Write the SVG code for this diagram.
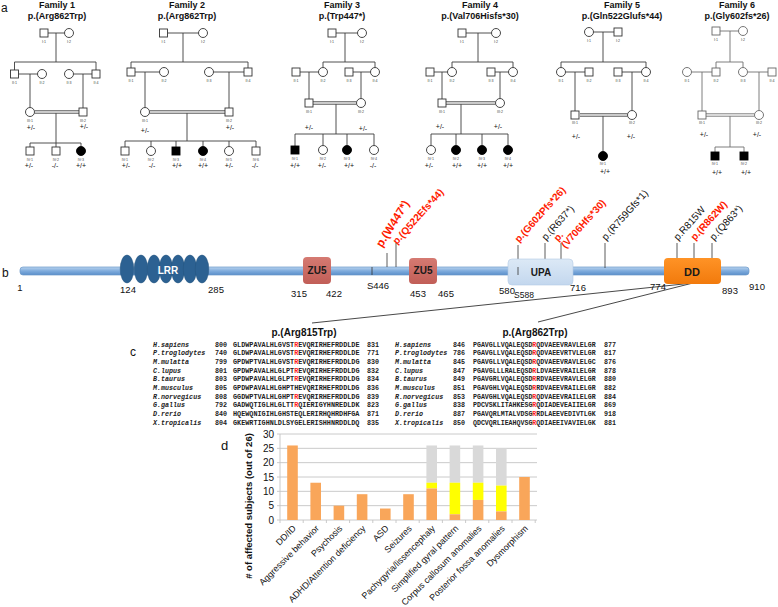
<svg xmlns="http://www.w3.org/2000/svg" width="778" height="607" viewBox="0 0 778 607">
<defs>
<linearGradient id="barG" x1="0" y1="0" x2="0" y2="1"><stop offset="0" stop-color="#b8d3ef"/><stop offset="0.5" stop-color="#7eabdc"/><stop offset="1" stop-color="#5b8fca"/></linearGradient>
<linearGradient id="zuG" x1="0" y1="0" x2="0" y2="1"><stop offset="0" stop-color="#d57a72"/><stop offset="1" stop-color="#c15e57"/></linearGradient>
<linearGradient id="ddG" x1="0" y1="0" x2="0" y2="1"><stop offset="0" stop-color="#ff9326"/><stop offset="1" stop-color="#f27a0c"/></linearGradient>
<linearGradient id="upG" x1="0" y1="0" x2="0" y2="1"><stop offset="0" stop-color="#dce9f6"/><stop offset="1" stop-color="#c3d7ee"/></linearGradient>
</defs>
<style>
.ln{stroke:#3c3c3c;stroke-width:0.9;fill:none}
.lg{stroke:#707070;stroke-width:0.9;fill:none}
.s{fill:#fff;stroke:#333;stroke-width:0.9}
.a{fill:#000;stroke:#000;stroke-width:0.9}
.tt{font-family:"Liberation Sans",Arial,sans-serif;font-weight:bold;font-size:9px;text-anchor:middle;fill:#111}
.id{font-family:"Liberation Sans",Arial,sans-serif;font-size:3.6px;text-anchor:middle;fill:#444}
.gt{font-family:"Liberation Sans",Arial,sans-serif;font-size:7px;text-anchor:middle;fill:#111}
.pl{font-family:"Liberation Sans",Arial,sans-serif;font-size:12px;fill:#111}
.num{font-family:"Liberation Sans",Arial,sans-serif;font-size:9.5px;text-anchor:middle;fill:#111}
.dom{font-family:"Liberation Sans",Arial,sans-serif;font-size:10px;font-weight:bold;text-anchor:middle;fill:#1a1a1a}
.mr{font-family:"Liberation Sans",Arial,sans-serif;font-size:10px;font-weight:bold;fill:#ff1a00}
.mk{font-family:"Liberation Sans",Arial,sans-serif;font-size:10px;fill:#111}
.tk{stroke:#333;stroke-width:0.8}
.ht{font-family:"Liberation Sans",Arial,sans-serif;font-size:10px;font-weight:bold;text-anchor:middle;fill:#111}
.sp{font-family:"Liberation Mono",monospace;font-size:6.7px;font-weight:bold;font-style:italic;fill:#222}
.nm{font-family:"Liberation Mono",monospace;font-size:6.7px;font-weight:bold;fill:#222}
.sqL{font-family:"Liberation Mono",monospace;font-size:6.8px;font-weight:bold;fill:#222}
.sqR{font-family:"Liberation Mono",monospace;font-size:6.6px;font-weight:bold;fill:#222}
.rd{fill:#ff2020}
.grid{stroke:#c4c4c4;stroke-width:0.9}
.o{fill:#f9a65a}.y{fill:#ffff00}.g{fill:#d9d9d9}
.xl{font-family:"Liberation Sans",Arial,sans-serif;font-size:8.9px;text-anchor:end;fill:#111}
.yl{font-family:"Liberation Sans",Arial,sans-serif;font-size:10px;text-anchor:end;fill:#111}
</style>
<rect width="778" height="607" fill="#fff"/>

<!-- Panel a -->
<text class="pl" x="1" y="12">a</text>

<g id="family1">
<text class="tt" x="57" y="8">Family 1</text>
<text class="tt" x="57" y="19">p.(Arg862Trp)</text>
<g id="f1-connectors">
<path class="ln" d="M48,33 H64.5 M56,33 V62 M14.5,62 H96 M14.5,62 V70 M96,62 V70 M18.5,74 H37.5 M30,74 V107.5 M73.5,74 H92 M83,74 V108 M34.5,110.8 H79 M34.5,113.2 H79 M56,113.2 V143 M30,143 H81 M30,143 V147 M56,143 V147 M81,143 V146.5"/>
</g>
<g id="f1-I1"><rect class="s" x="40" y="29" width="8" height="8"/><text class="id" x="44" y="42.5">I:1</text></g>
<g id="f1-I2"><circle class="s" cx="69" cy="33" r="4.5"/><text class="id" x="69" y="42.5">I:2</text></g>
<g id="f1-II1"><rect class="s" x="10.5" y="70" width="8" height="8"/><text class="id" x="14.5" y="83.5">II:1</text></g>
<g id="f1-II2"><circle class="s" cx="42" cy="74" r="4.5"/><text class="id" x="42" y="83.5">II:2</text></g>
<g id="f1-II3"><circle class="s" cx="69" cy="74" r="4.5"/><text class="id" x="69" y="83.5">II:3</text></g>
<g id="f1-II4"><rect class="s" x="92" y="70" width="8" height="8"/><text class="id" x="96" y="83.5">II:4</text></g>
<g id="f1-III1"><circle class="s" cx="30" cy="112" r="4.5"/><text class="id" x="30" y="121.5">III:1</text><text class="gt" x="31" y="130">+/-</text></g>
<g id="f1-III2"><rect class="s" x="79" y="108" width="8" height="8"/><text class="id" x="83" y="121.5">III:2</text><text class="gt" x="84" y="129">+/-</text></g>
<g id="f1-IV1"><rect class="s" x="26" y="147" width="8" height="8"/><text class="id" x="30" y="160.5">IV:1</text><text class="gt" x="29" y="167.5">+/-</text></g>
<g id="f1-IV2"><rect class="s" x="52" y="147" width="8" height="8"/><text class="id" x="56" y="160.5">IV:2</text><text class="gt" x="55" y="167.5">-/-</text></g>
<g id="f1-IV3"><circle class="a" cx="81" cy="151" r="4.5"/><text class="id" x="81" y="160.5">IV:3</text><text class="gt" x="81" y="167.5">+/+</text></g>
</g>

<g id="family2">
<text class="tt" x="187" y="8">Family 2</text>
<text class="tt" x="187" y="19">p.(Arg862Trp)</text>
<g id="f2-connectors">
<path class="ln" d="M167.5,33 H198.5 M183,33 V62 M131,62 H248 M131,62 V68 M248,62 V68 M135,72 H159.5 M145,72 V107.5 M213.5,72 H244 M229,72 V108 M149.5,110.8 H225 M149.5,113.2 H225 M187,113.2 V141 M125,141 H256 M125,141 V147 M151,141 V146.5 M176,141 V147 M203,141 V146.5 M229,141 V146.5 M256,141 V147"/>
</g>
<g id="f2-I1"><rect class="s" x="159.5" y="29" width="8" height="8"/><text class="id" x="163.5" y="42.5">I:1</text></g>
<g id="f2-I2"><circle class="s" cx="203" cy="33" r="4.5"/><text class="id" x="203" y="42.5">I:2</text></g>
<g id="f2-II1"><rect class="s" x="127" y="68" width="8" height="8"/><text class="id" x="131" y="81.5">II:1</text></g>
<g id="f2-II2"><circle class="s" cx="164" cy="72" r="4.5"/><text class="id" x="164" y="81.5">II:2</text></g>
<g id="f2-II3"><circle class="s" cx="209" cy="72" r="4.5"/><text class="id" x="209" y="81.5">II:3</text></g>
<g id="f2-II4"><rect class="s" x="244" y="68" width="8" height="8"/><text class="id" x="248" y="81.5">II:4</text></g>
<g id="f2-III1"><circle class="s" cx="145" cy="112" r="4.5"/><text class="id" x="145" y="121.5">III:1</text><text class="gt" x="145" y="132.5">+/-</text></g>
<g id="f2-III2"><rect class="s" x="225" y="108" width="8" height="8"/><text class="id" x="229" y="121.5">III:2</text><text class="gt" x="230" y="130">+/-</text></g>
<g id="f2-IV1"><rect class="s" x="121" y="147" width="8" height="8"/><text class="id" x="125" y="160.5">IV:1</text><text class="gt" x="126" y="167.5">+/-</text></g>
<g id="f2-IV2"><circle class="s" cx="151" cy="151" r="4.5"/><text class="id" x="151" y="160.5">IV:2</text><text class="gt" x="152" y="167.5">-/-</text></g>
<g id="f2-IV3"><rect class="a" x="172" y="147" width="8" height="8"/><text class="id" x="176" y="160.5">IV:3</text><text class="gt" x="177" y="167.5">+/+</text></g>
<g id="f2-IV4"><circle class="a" cx="203" cy="151" r="4.5"/><text class="id" x="203" y="160.5">IV:4</text><text class="gt" x="203" y="167.5">+/+</text></g>
<g id="f2-IV5"><circle class="s" cx="229" cy="151" r="4.5"/><text class="id" x="229" y="160.5">IV:5</text><text class="gt" x="229" y="167.5">+/-</text></g>
<g id="f2-IV6"><rect class="s" x="252" y="147" width="8" height="8"/><text class="id" x="256" y="160.5">IV:6</text><text class="gt" x="255" y="167.5">-/-</text></g>
</g>

<g id="family3">
<text class="tt" x="342" y="8">Family 3</text>
<text class="tt" x="342" y="19">p.(Trp447*)</text>
<g id="f3-connectors">
<path class="ln" d="M336,33 H357.5 M345,33 V62 M323,62 H375 M323,62 V67.5 M375,62 V67.5 M300,72 H318.5 M309,72 V99 M353,72 H370.5 M361,72 V98.5 M313,101.8 H356.5 M313,104.2 H356.5 M336,104.2 V134 M295,134 H374 M295,134 V146 M323,134 V145.5 M347,134 V145.5 M374,134 V145.5"/>
</g>
<g id="f3-I1"><rect class="s" x="328" y="29" width="8" height="8"/><text class="id" x="332" y="42.5">I:1</text></g>
<g id="f3-I2"><circle class="s" cx="362" cy="33" r="4.5"/><text class="id" x="362" y="42.5">I:2</text></g>
<g id="f3-II1"><rect class="s" x="292" y="68" width="8" height="8"/><text class="id" x="296" y="81.5">II:1</text></g>
<g id="f3-II2"><circle class="s" cx="323" cy="72" r="4.5"/><text class="id" x="323" y="81.5">II:2</text></g>
<g id="f3-II3"><rect class="s" x="345" y="68" width="8" height="8"/><text class="id" x="349" y="81.5">II:3</text></g>
<g id="f3-II4"><circle class="s" cx="375" cy="72" r="4.5"/><text class="id" x="375" y="81.5">II:4</text></g>
<g id="f3-III1"><rect class="s" x="305" y="99" width="8" height="8"/><text class="id" x="309" y="112.5">III:1</text><text class="gt" x="309" y="130">+/-</text></g>
<g id="f3-III2"><circle class="s" cx="361" cy="103" r="4.5"/><text class="id" x="361" y="112.5">III:2</text><text class="gt" x="363" y="131">+/-</text></g>
<g id="f3-IV1"><rect class="a" x="291" y="146" width="8" height="8"/><text class="id" x="295" y="160">IV:1</text><text class="gt" x="295" y="167.5">+/+</text></g>
<g id="f3-IV2"><circle class="s" cx="323" cy="150" r="4.5"/><text class="id" x="323" y="160">IV:2</text><text class="gt" x="322" y="167.5">+/-</text></g>
<g id="f3-IV3"><circle class="a" cx="347" cy="150" r="4.5"/><text class="id" x="347" y="160">IV:3</text><text class="gt" x="349" y="167.5">+/+</text></g>
<g id="f3-IV4"><circle class="s" cx="374" cy="150" r="4.5"/><text class="id" x="374" y="160">IV:4</text><text class="gt" x="373" y="167.5">-/-</text></g>
</g>

<g id="family4">
<text class="tt" x="480" y="8">Family 4</text>
<text class="tt" x="480" y="19">p.(Val706Hisfs*30)</text>
<g id="f4-connectors">
<path class="ln" d="M466,33 H491.5 M478,33 V62 M452,62 H513 M452,62 V67.5 M513,62 V67.5 M434,72 H447.5 M442,72 V99 M495,72 H508.5 M500,72 V98.5 M446,101.8 H495.5 M446,104.2 H495.5 M461,104.2 V134 M431,134 H508 M431,134 V145.5 M456,134 V145.5 M482,134 V145.5 M508,134 V145.5"/>
</g>
<g id="f4-I1"><rect class="s" x="458" y="29" width="8" height="8"/><text class="id" x="462" y="42.5">I:1</text></g>
<g id="f4-I2"><circle class="s" cx="496" cy="33" r="4.5"/><text class="id" x="496" y="42.5">I:2</text></g>
<g id="f4-II1"><rect class="s" x="426" y="68" width="8" height="8"/><text class="id" x="430" y="81.5">II:1</text></g>
<g id="f4-II2"><circle class="s" cx="452" cy="72" r="4.5"/><text class="id" x="452" y="81.5">II:2</text></g>
<g id="f4-II3"><rect class="s" x="487" y="68" width="8" height="8"/><text class="id" x="491" y="81.5">II:3</text></g>
<g id="f4-II4"><circle class="s" cx="513" cy="72" r="4.5"/><text class="id" x="513" y="81.5">II:4</text></g>
<g id="f4-III1"><rect class="s" x="438" y="99" width="8" height="8"/><text class="id" x="442" y="112.5">III:1</text><text class="gt" x="440" y="129">+/-</text></g>
<g id="f4-III2"><circle class="s" cx="500" cy="103" r="4.5"/><text class="id" x="500" y="112.5">III:2</text><text class="gt" x="498" y="129">+/-</text></g>
<g id="f4-IV1"><circle class="s" cx="431" cy="150" r="4.5"/><text class="id" x="431" y="160">IV:1</text><text class="gt" x="429" y="167.5">+/-</text></g>
<g id="f4-IV2"><circle class="a" cx="456" cy="150" r="4.5"/><text class="id" x="456" y="160">IV:2</text><text class="gt" x="457" y="167.5">+/+</text></g>
<g id="f4-IV3"><circle class="a" cx="482" cy="150" r="4.5"/><text class="id" x="482" y="160">IV:3</text><text class="gt" x="482" y="167.5">+/+</text></g>
<g id="f4-IV4"><circle class="a" cx="508" cy="150" r="4.5"/><text class="id" x="508" y="160">IV:4</text><text class="gt" x="508" y="167.5">+/+</text></g>
</g>

<g id="family5">
<text class="tt" x="622" y="8">Family 5</text>
<text class="tt" x="622" y="19">p.(Gln522Glufs*44)</text>
<g id="f5-connectors">
<path class="ln" d="M593.5,32 H614 M603,32 V62 M561,62 H646 M561,62 V67.5 M646,62 V67.5 M565.5,72 H585 M575,72 V111 M622,72 H641.5 M632,72 V110.5 M580,113.8 H627.5 M580,116.2 H627.5 M603,116.2 V151.5"/>
</g>
<g id="f5-I1"><circle class="s" cx="589" cy="32" r="4.5"/><text class="id" x="589" y="41.5">I:1</text></g>
<g id="f5-I2"><rect class="s" x="614" y="28" width="8" height="8"/><text class="id" x="618" y="41.5">I:2</text></g>
<g id="f5-II1"><circle class="s" cx="561" cy="72" r="4.5"/><text class="id" x="561" y="81.5">II:1</text></g>
<g id="f5-II2"><rect class="s" x="585" y="68" width="8" height="8"/><text class="id" x="589" y="81.5">II:2</text></g>
<g id="f5-II3"><rect class="s" x="614" y="68" width="8" height="8"/><text class="id" x="618" y="81.5">II:3</text></g>
<g id="f5-II4"><circle class="s" cx="646" cy="72" r="4.5"/><text class="id" x="646" y="81.5">II:4</text></g>
<g id="f5-III1"><rect class="s" x="571" y="111" width="8" height="8"/><text class="id" x="575" y="124">III:1</text><text class="gt" x="576" y="138.5">+/-</text></g>
<g id="f5-III2"><circle class="s" cx="632" cy="115" r="4.5"/><text class="id" x="632" y="124">III:2</text><text class="gt" x="631" y="138.5">+/-</text></g>
<g id="f5-IV1"><circle class="a" cx="603" cy="156" r="4.5"/><text class="id" x="603" y="165">IV:1</text><text class="gt" x="605" y="174">+/+</text></g>
</g>

<g id="family6">
<text class="tt" x="737" y="8">Family 6</text>
<text class="tt" x="737" y="19">p.(Gly602fs*26)</text>
<g id="f6-connectors">
<path class="lg" d="M720,31 H738.5 M730,31 V62 M716,62 H743 M716,62 V68 M743,62 V67.5 M691.5,72 H712 M702,72 V111 M747.5,72 H768 M759,72 V110.5 M706,113.8 H754.5 M706,116.2 H754.5 M730,116.2 V147 M715,147 H744 M715,147 V152 M744,147 V152"/>
</g>
<g id="f6-I1"><rect class="s" x="712" y="27" width="8" height="8" style="stroke:#666"/><text class="id" x="716" y="40.5">I:1</text></g>
<g id="f6-I2"><circle class="s" cx="743" cy="31" r="4.5" style="stroke:#666"/><text class="id" x="743" y="40.5">I:2</text></g>
<g id="f6-II1"><circle class="s" cx="687" cy="72" r="4.5" style="stroke:#666"/><text class="id" x="687" y="81.5">II:1</text></g>
<g id="f6-II2"><rect class="s" x="712" y="68" width="8" height="8" style="stroke:#666"/><text class="id" x="716" y="81.5">II:2</text></g>
<g id="f6-II3"><circle class="s" cx="743" cy="72" r="4.5" style="stroke:#666"/><text class="id" x="743" y="81.5">II:3</text></g>
<g id="f6-II4"><rect class="s" x="768" y="68" width="8" height="8" style="stroke:#666"/><text class="id" x="772" y="81.5">II:4</text></g>
<g id="f6-III1"><rect class="s" x="698" y="111" width="8" height="8" style="stroke:#666"/><text class="id" x="702" y="124">III:1</text><text class="gt" x="704" y="136.5">+/-</text></g>
<g id="f6-III2"><circle class="s" cx="759" cy="115" r="4.5" style="stroke:#666"/><text class="id" x="759" y="124">III:2</text><text class="gt" x="757" y="136.5">+/-</text></g>
<g id="f6-IV1"><rect class="a" x="711" y="152" width="8" height="8"/><text class="id" x="715" y="165">IV:1</text><text class="gt" x="717" y="175">+/+</text></g>
<g id="f6-IV2"><rect class="a" x="740" y="152" width="8" height="8"/><text class="id" x="744" y="165">IV:2</text><text class="gt" x="746" y="175">+/+</text></g>
</g>

<!-- Panel b -->
<text class="pl" x="2" y="277">b</text>
<g id="protein">
<rect x="20" y="267" width="729" height="8" rx="3" fill="url(#barG)" stroke="#6a98c8" stroke-width="0.7"/>
<g id="ticks">
<line class="tk" x1="372" y1="267" x2="372" y2="275"/>
<line class="tk" x1="387" y1="253" x2="387" y2="267"/>
<line class="tk" x1="396" y1="243" x2="396" y2="267"/>
<line class="tk" x1="518" y1="245" x2="518" y2="259"/>
<line class="tk" x1="545" y1="243" x2="545" y2="259"/>
<line class="tk" x1="561" y1="243" x2="561" y2="259"/>
<line class="tk" x1="605" y1="243" x2="605" y2="268"/>
<line class="tk" x1="677" y1="243" x2="677" y2="258"/>
<line class="tk" x1="694" y1="243" x2="694" y2="258"/>
<line class="tk" x1="712" y1="243" x2="712" y2="258"/>
</g>
<g id="zoom-lines">
<line x1="693" y1="283" x2="312" y2="323" stroke="#333" stroke-width="0.9"/>
<line x1="693" y1="283" x2="538" y2="322" stroke="#333" stroke-width="0.9"/>
</g>
<g id="LRR">
<ellipse cx="127" cy="269" rx="6.8" ry="14" fill="#2c6192" stroke="#24557f" stroke-width="0.5"/>
<ellipse cx="141" cy="269" rx="6.8" ry="14" fill="#2c6192" stroke="#24557f" stroke-width="0.5"/>
<ellipse cx="154" cy="269" rx="6.8" ry="14" fill="#2c6192" stroke="#24557f" stroke-width="0.5"/>
<ellipse cx="166" cy="269" rx="6.8" ry="14" fill="#2c6192" stroke="#24557f" stroke-width="0.5"/>
<ellipse cx="178" cy="269" rx="6.8" ry="14" fill="#2c6192" stroke="#24557f" stroke-width="0.5"/>
<ellipse cx="190" cy="269" rx="6.8" ry="14" fill="#2c6192" stroke="#24557f" stroke-width="0.5"/>
<ellipse cx="202" cy="269" rx="6.8" ry="14" fill="#2c6192" stroke="#24557f" stroke-width="0.5"/>
<text class="dom" x="168" y="274" style="fill:#fff">LRR</text>
</g>
<g id="ZU5-1"><rect x="303" y="257" width="28" height="27" rx="4" fill="url(#zuG)"/><text class="dom" x="317" y="274">ZU5</text></g>
<g id="ZU5-2"><rect x="409" y="258" width="28" height="26" rx="4" fill="url(#zuG)"/><text class="dom" x="423" y="274">ZU5</text></g>
<g id="UPA"><rect x="508" y="259" width="65" height="26" rx="4" fill="url(#upG)" stroke="#b3cae4" stroke-width="0.6"/><line class="tk" x1="518" y1="267" x2="518" y2="275"/><text class="dom" x="541" y="276">UPA</text></g>
<g id="DD"><rect x="664" y="258" width="57" height="26" rx="4" fill="url(#ddG)"/><text class="dom" x="692" y="276" style="font-size:11px">DD</text></g>
<g id="positions">
<text class="num" x="20" y="291">1</text>
<text class="num" x="128" y="293">124</text>
<text class="num" x="216" y="293">285</text>
<text class="num" x="299" y="297">315</text>
<text class="num" x="334" y="297">422</text>
<text class="num" x="378" y="289">S446</text>
<text class="num" x="418" y="297">453</text>
<text class="num" x="446" y="297">465</text>
<text class="num" x="507" y="294">580</text>
<text class="num" x="524" y="298" style="font-size:8.5px">S588</text>
<text class="num" x="578" y="291">716</text>
<text class="num" x="658" y="290">774</text>
<text class="num" x="730" y="294">893</text>
<text class="num" x="757" y="290">910</text>
</g>
<g id="mutations">
<text class="mr" transform="translate(382,248) rotate(-58)" style="font-size:11.5px">p.(W447*)</text>
<text class="mr" transform="translate(397,245) rotate(-48)">p.(Q522Efs*44)</text>
<text class="mr" transform="translate(519,243) rotate(-48)">p.(G602Pfs*26)</text>
<text class="mk" transform="translate(546,241) rotate(-48)">p.(R637*)</text>
<text class="mr" transform="translate(558,242) rotate(-48)">p.<tspan x="0" dy="10">(V706Hfs*30)</tspan></text>
<text class="mk" transform="translate(606,241) rotate(-48)">p.(R759Gfs*1)</text>
<text class="mk" transform="translate(678,241) rotate(-48)">p.R815W</text>
<text class="mr" transform="translate(695,241) rotate(-48)">p.(R862W)</text>
<text class="mk" transform="translate(714,241) rotate(-48)">p.(Q863*)</text>
</g>
</g>

<!-- Panel c -->
<text class="pl" x="130" y="356">c</text>
<g id="alignment-815">
<text class="ht" x="304" y="336">p.(Arg815Trp)</text>
<text class="sp" x="153" y="346.5">H.sapiens</text><text class="nm" x="215" y="346.5">800</text><text class="sqL" x="233" y="346.5">GLDWPAVALHLGVST<tspan class="rd">R</tspan>EVQRIRHEFRDDLDE</text><text class="nm" x="367" y="346.5">831</text>
<text class="sp" x="153" y="355.2">P.troglodytes</text><text class="nm" x="215" y="355.2">740</text><text class="sqL" x="233" y="355.2">GLDWPAVALHLGVST<tspan class="rd">R</tspan>EVQRIRHEFRDDLDE</text><text class="nm" x="367" y="355.2">771</text>
<text class="sp" x="153" y="363.8">M.mulatta</text><text class="nm" x="215" y="363.8">799</text><text class="sqL" x="233" y="363.8">GPDWPTVALHLGVST<tspan class="rd">R</tspan>EVQRIRHEFRDDLDG</text><text class="nm" x="367" y="363.8">830</text>
<text class="sp" x="153" y="372.5">C.lupus</text><text class="nm" x="215" y="372.5">801</text><text class="sqL" x="233" y="372.5">GPDWPAVALHLGLPT<tspan class="rd">R</tspan>EVQRIRHEFRDDLDG</text><text class="nm" x="367" y="372.5">832</text>
<text class="sp" x="153" y="381.2">B.taurus</text><text class="nm" x="215" y="381.2">803</text><text class="sqL" x="233" y="381.2">GPDWPAVALHLGLPT<tspan class="rd">R</tspan>EVQRIRHEFRDDLDG</text><text class="nm" x="367" y="381.2">834</text>
<text class="sp" x="153" y="389.8">M.musculus</text><text class="nm" x="215" y="389.8">805</text><text class="sqL" x="233" y="389.8">GPDWPAVALHLGHPTHEVQRIRHEFRDDLDG</text><text class="nm" x="367" y="389.8">836</text>
<text class="sp" x="153" y="398.5">R.norvegicus</text><text class="nm" x="215" y="398.5">808</text><text class="sqL" x="233" y="398.5">GGDWPTVALHLGHPT<tspan class="rd">R</tspan>EVQRIRHEFRDDLDG</text><text class="nm" x="367" y="398.5">839</text>
<text class="sp" x="153" y="407.2">G.gallus</text><text class="nm" x="215" y="407.2">792</text><text class="sqL" x="233" y="407.2">GADWQTIGLHLGLTT<tspan class="rd">R</tspan>QIERIGYHNREDLDK</text><text class="nm" x="367" y="407.2">823</text>
<text class="sp" x="153" y="415.8">D.rerio</text><text class="nm" x="215" y="415.8">840</text><text class="sqL" x="233" y="415.8">HQEWQNIGIHLGHSTEQLERIRHQHRDHFGA</text><text class="nm" x="367" y="415.8">871</text>
<text class="sp" x="153" y="424.5">X.tropicalis</text><text class="nm" x="215" y="424.5">804</text><text class="sqL" x="233" y="424.5">GKEWRTIGHNLDLSYGELERISHHNRDDLDQ</text><text class="nm" x="367" y="424.5">835</text>
</g>
<g id="alignment-862">
<text class="ht" x="535" y="336">p.(Arg862Trp)</text>
<text class="sp" x="395" y="346.5">H.sapiens</text><text class="nm" x="453" y="346.5">846</text><text class="sqR" x="473" y="346.5">PGAVGLLVQALEQSD<tspan class="rd">R</tspan>QDVAEEVRAVLELGR</text><text class="nm" x="604" y="346.5">877</text>
<text class="sp" x="395" y="355.2">P.troglodytes</text><text class="nm" x="453" y="355.2">786</text><text class="sqR" x="473" y="355.2">PGAVGLLVQALEQSD<tspan class="rd">R</tspan>QDVAEEVRTVLELGR</text><text class="nm" x="604" y="355.2">817</text>
<text class="sp" x="395" y="363.8">M.mulatta</text><text class="nm" x="453" y="363.8">845</text><text class="sqR" x="473" y="363.8">PGAVGLLVQALEQSD<tspan class="rd">R</tspan>QDVAEEVRAVLELGC</text><text class="nm" x="604" y="363.8">876</text>
<text class="sp" x="395" y="372.5">C.lupus</text><text class="nm" x="453" y="372.5">847</text><text class="sqR" x="473" y="372.5">PGAVGLLLRALEQSD<tspan class="rd">R</tspan>LDVAEEVRAILELGR</text><text class="nm" x="604" y="372.5">878</text>
<text class="sp" x="395" y="381.2">B.taurus</text><text class="nm" x="453" y="381.2">849</text><text class="sqR" x="473" y="381.2">PGAVGRLVQALEQSD<tspan class="rd">R</tspan>RDVAEEVRAVLELGR</text><text class="nm" x="604" y="381.2">880</text>
<text class="sp" x="395" y="389.8">M.musculus</text><text class="nm" x="453" y="389.8">851</text><text class="sqR" x="473" y="389.8">PGAVGHLVQALEQSD<tspan class="rd">R</tspan>RDVAEEVRAILELGR</text><text class="nm" x="604" y="389.8">882</text>
<text class="sp" x="395" y="398.5">R.norvegicus</text><text class="nm" x="453" y="398.5">853</text><text class="sqR" x="473" y="398.5">PGAVGHLVQALEQSD<tspan class="rd">R</tspan>QDVAEEVRAILELGR</text><text class="nm" x="604" y="398.5">884</text>
<text class="sp" x="395" y="407.2">G.gallus</text><text class="nm" x="453" y="407.2">838</text><text class="sqR" x="473" y="407.2">PDCVSKLITAHKESG<tspan class="rd">R</tspan>QDIADEVEAIIELGR</text><text class="nm" x="604" y="407.2">869</text>
<text class="sp" x="395" y="415.8">D.rerio</text><text class="nm" x="453" y="415.8">887</text><text class="sqR" x="473" y="415.8">PGAVQRLMTALVDSG<tspan class="rd">R</tspan>RDLAEEVEDIVTLGK</text><text class="nm" x="604" y="415.8">918</text>
<text class="sp" x="395" y="424.5">X.tropicalis</text><text class="nm" x="453" y="424.5">850</text><text class="sqR" x="473" y="424.5">QDCVQRLIEAHQVSG<tspan class="rd">R</tspan>QDIAEEIVAVIELGK</text><text class="nm" x="604" y="424.5">881</text>
</g>

<!-- Panel d -->
<text class="pl" x="221" y="450" style="font-size:13px">d</text>
<g id="chart">
<g id="gridlines">
<line class="grid" x1="280" y1="434" x2="537" y2="434"/>
<line class="grid" x1="280" y1="448.33" x2="537" y2="448.33"/>
<line class="grid" x1="280" y1="462.67" x2="537" y2="462.67"/>
<line class="grid" x1="280" y1="477" x2="537" y2="477"/>
<line class="grid" x1="280" y1="491.33" x2="537" y2="491.33"/>
<line class="grid" x1="280" y1="505.67" x2="537" y2="505.67"/>
<line class="grid" x1="277" y1="520" x2="537" y2="520"/>
<line class="grid" x1="280" y1="434" x2="280" y2="520"/>
<path class="grid" d="M277,434H280M277,448.33H280M277,462.67H280M277,477H280M277,491.33H280M277,505.67H280M280,520V523M303.2,520V523M326.4,520V523M349.6,520V523M372.8,520V523M396,520V523M419.2,520V523M442.4,520V523M465.6,520V523M488.8,520V523M512,520V523M535.2,520V523"/>
</g>
<g id="yticks">
<text class="yl" x="274" y="437.5">30</text>
<text class="yl" x="274" y="451.8">25</text>
<text class="yl" x="274" y="466.2">20</text>
<text class="yl" x="274" y="480.5">15</text>
<text class="yl" x="274" y="494.8">10</text>
<text class="yl" x="274" y="509.2">5</text>
<text class="yl" x="274" y="523.5">0</text>
</g>
<text transform="translate(252,506) rotate(-90)" style="font-family:'Liberation Sans',Arial,sans-serif;font-size:9.5px;font-weight:bold;text-anchor:middle;fill:#111"># of affected subjects (out of 26)</text>
<g id="bars">
<rect class="o" x="287.2" y="445.47" width="10.6" height="74.53"/>
<rect class="o" x="310.4" y="482.73" width="10.6" height="37.27"/>
<rect class="o" x="333.6" y="505.67" width="10.6" height="14.33"/>
<rect class="o" x="356.8" y="494.2" width="10.6" height="25.8"/>
<rect class="o" x="380" y="508.53" width="10.6" height="11.47"/>
<rect class="o" x="403.2" y="494.2" width="10.6" height="25.8"/>
<rect class="g" x="426.4" y="445.47" width="10.6" height="37.27"/>
<rect class="y" x="426.4" y="482.73" width="10.6" height="5.74"/>
<rect class="o" x="426.4" y="488.47" width="10.6" height="31.53"/>
<rect class="g" x="449.6" y="445.47" width="10.6" height="37.27"/>
<rect class="y" x="449.6" y="482.73" width="10.6" height="31.54"/>
<rect class="o" x="449.6" y="514.27" width="10.6" height="5.73"/>
<rect class="g" x="472.8" y="445.47" width="10.6" height="37.27"/>
<rect class="y" x="472.8" y="482.73" width="10.6" height="17.2"/>
<rect class="o" x="472.8" y="499.93" width="10.6" height="20.07"/>
<rect class="g" x="496" y="448.33" width="10.6" height="37.27"/>
<rect class="y" x="496" y="485.6" width="10.6" height="25.8"/>
<rect class="o" x="496" y="511.4" width="10.6" height="8.6"/>
<rect class="o" x="519.2" y="477" width="10.6" height="43"/>
</g>
<g id="xlabels">
<text class="xl" transform="translate(296.5,529) rotate(-45)">DD/ID</text>
<text class="xl" transform="translate(319.7,529) rotate(-45)">Aggressive behavior</text>
<text class="xl" transform="translate(342.9,529) rotate(-45)">Psychosis</text>
<text class="xl" transform="translate(366.1,529) rotate(-45)">ADHD/Attention deficiency</text>
<text class="xl" transform="translate(389.3,529) rotate(-45)">ASD</text>
<text class="xl" transform="translate(412.5,529) rotate(-45)">Seizures</text>
<text class="xl" transform="translate(435.7,529) rotate(-45)">Pachygyria/lissencephaly</text>
<text class="xl" transform="translate(458.9,529) rotate(-45)">Simplified gyral pattern</text>
<text class="xl" transform="translate(482.1,529) rotate(-45)">Corpus callosum anomalies</text>
<text class="xl" transform="translate(505.3,529) rotate(-45)">Posterior fossa anomalies</text>
<text class="xl" transform="translate(528.5,529) rotate(-45)">Dysmorphism</text>
</g>
</g>
</svg>
